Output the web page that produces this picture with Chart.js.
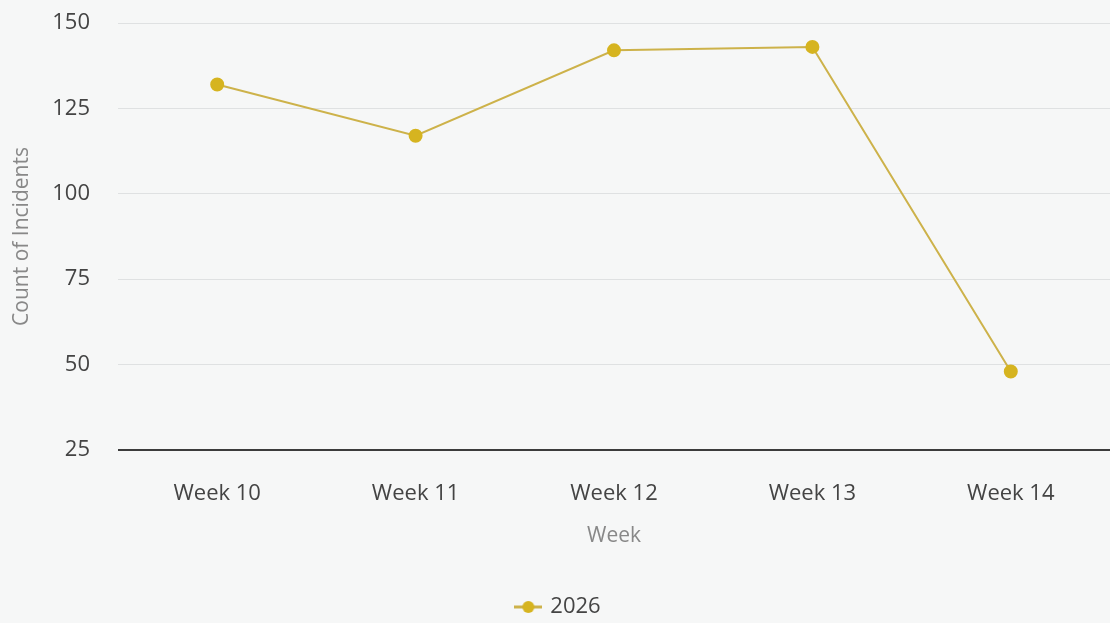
<!DOCTYPE html>
<html>
<head>
<meta charset="utf-8">
<script src="https://cdn.jsdelivr.net/npm/chart.js@4.4.1/dist/chart.umd.min.js"></script>
<style>
  html, body { margin: 0; padding: 0; overflow: hidden; background: #f6f7f7; }
  #chart { display: block; }
</style>
</head>
<body>
<canvas id="chart" width="1118" height="628"></canvas>
<script>
const weeks = ["Week 10", "Week 11", "Week 12", "Week 13", "Week 14"]
const incidents2026 = [132, 117, 142, 143, 48]
const yTicks = [25, 50, 75, 100, 125, 150]

const lineColor = "#cdb24a"
const pointColor = "#d6b420"
const font = "'Open Sans', 'Noto Sans', sans-serif"

// legend marker: short line with a dot in the middle
function legendMarker() {
  const c = document.createElement("canvas")
  c.width = 28
  c.height = 14
  const g = c.getContext("2d")
  g.strokeStyle = lineColor
  g.lineWidth = 3
  g.beginPath()
  g.moveTo(0, 7)
  g.lineTo(28, 7)
  g.stroke()
  g.fillStyle = pointColor
  g.beginPath()
  g.arc(14, 7, 6, 0, Math.PI * 2)
  g.fill()
  return c
}

const ctx = document.getElementById("chart").getContext("2d")

new Chart(ctx, {
  type: "line",
  data: {
    labels: weeks,
    datasets: [
      {
        label: "2026",
        data: incidents2026,
        borderColor: lineColor,
        borderWidth: 2,
        backgroundColor: pointColor,
        pointBackgroundColor: pointColor,
        pointBorderColor: pointColor,
        pointRadius: 6,
        pointHoverRadius: 6,
        tension: 0,
      },
    ],
  },
  options: {
    responsive: false,
    animation: false,
    layout: { padding: { top: 23, left: 0, right: 0, bottom: 0 } },
    plugins: {
      tooltip: { enabled: false },
      legend: {
        position: "bottom",
        labels: {
          usePointStyle: true,
          color: "#444",
          font: { family: font, size: 22 },
          padding: 2,
          generateLabels: (chart) =>
            chart.data.datasets.map((ds, i) => ({
              text: ds.label,
              pointStyle: legendMarker(),
              fillStyle: pointColor,
              strokeStyle: pointColor,
              lineWidth: 0,
              datasetIndex: i,
              fontColor: "#444",
            })),
        },
      },
    },
    scales: {
      x: {
        offset: true,
        afterFit: (scale) => {
          scale.height = 144
        },
        grid: { display: false, drawTicks: false },
        border: { display: false },
        ticks: {
          color: "#444",
          padding: 31,
          font: { family: font, size: 22 },
        },
        title: {
          display: true,
          text: "Week",
          color: "#888",
          font: { family: font, size: 21 },
          padding: { top: 0, bottom: 45 },
        },
      },
      y: {
        min: 25,
        max: 150,
        afterFit: (scale) => {
          // fixed axis width; tick padding should not push the plot down
          scale.width = 118
          scale.paddingTop = 0
          scale.paddingBottom = 0
        },
        afterBuildTicks: (scale) => {
          scale.ticks = yTicks.map((v) => ({ value: v }))
        },
        grid: {
          drawTicks: false,
          color: (c) => (c.tick && c.tick.value === 25 ? "#3c3c3c" : "#dfe1e2"),
          lineWidth: (c) => (c.tick && c.tick.value === 25 ? 2 : 1),
        },
        border: { display: false },
        ticks: {
          color: "#444",
          padding: 28,
          font: { family: font, size: 22 },
        },
        title: {
          display: true,
          text: "Count of Incidents",
          color: "#888",
          font: { family: font, size: 21 },
          padding: { top: 9, bottom: 0 },
        },
      },
    },
  },
})
</script>
</body>
</html>
